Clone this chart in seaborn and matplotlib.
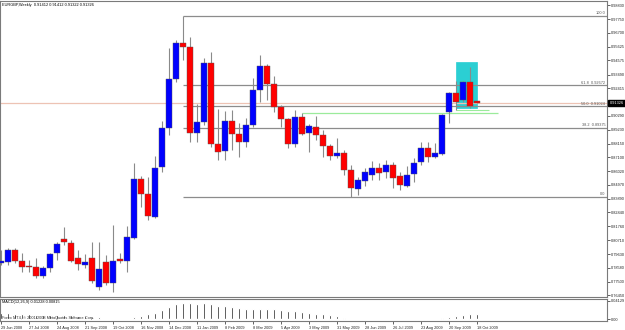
import numpy as np
import pandas as pd
import matplotlib
matplotlib.use("Agg")
import matplotlib.pyplot as plt
import matplotlib.patches as mpatches
import matplotlib.transforms as mtrans
import seaborn as sns

# ---------------- data ----------------
week_start = "2008-06-29"
n_weeks = 69

opens = [0.7894, 0.7902, 0.7994, 0.7910, 0.7871, 0.7863, 0.7794, 0.7856, 0.7971, 0.8079,
         0.8048, 0.7933, 0.7879, 0.7933, 0.7709, 0.7902, 0.7740, 0.7925, 0.7910, 0.8087,
         0.8543, 0.8427, 0.8249, 0.8635, 0.8936, 0.9315, 0.9593, 0.9562, 0.8898, 0.8983,
         0.9438, 0.8813, 0.8759, 0.8990, 0.8890, 0.8828, 0.8959, 0.9230, 0.9415, 0.9276,
         0.9098, 0.9006, 0.8813, 0.9021, 0.8898, 0.8944, 0.8882, 0.8797, 0.8720, 0.8743,
         0.8612, 0.8465, 0.8527, 0.8573, 0.8627, 0.8597, 0.8651, 0.8566, 0.8489, 0.8581,
         0.8674, 0.8782, 0.8712, 0.8735, 0.9060, 0.9206, 0.9152, 0.9291, 0.91412]
highs = [0.7994, 0.8010, 0.8010, 0.7971, 0.7917, 0.7932, 0.7871, 0.7971, 0.8056, 0.8172,
         0.8071, 0.7994, 0.7963, 0.8056, 0.8056, 0.7955, 0.8187, 0.7971, 0.8180, 0.8666,
         0.8566, 0.8558, 0.8720, 0.8990, 0.9554, 0.9616, 0.9801, 0.9639, 0.9121, 0.9477,
         0.9523, 0.9083, 0.9068, 0.9075, 0.8975, 0.9013, 0.9322, 0.9500, 0.9430, 0.9338,
         0.9114, 0.9013, 0.9075, 0.9052, 0.8967, 0.9029, 0.8921, 0.8813, 0.8859, 0.8766,
         0.8651, 0.8558, 0.8627, 0.8681, 0.8666, 0.8689, 0.8674, 0.8597, 0.8643, 0.8705,
         0.8828, 0.8828, 0.8821, 0.9044, 0.9214, 0.9299, 0.9299, 0.9407, 0.91412]
lows = [0.7879, 0.7879, 0.7894, 0.7825, 0.7825, 0.7778, 0.7778, 0.7825, 0.7917, 0.8033,
        0.7902, 0.7840, 0.7856, 0.7740, 0.7686, 0.7724, 0.7670, 0.7894, 0.7825, 0.8079,
        0.8326, 0.8226, 0.8241, 0.8597, 0.8882, 0.9291, 0.9461, 0.8828, 0.8828, 0.8959,
        0.8790, 0.8689, 0.8689, 0.8766, 0.8712, 0.8790, 0.8944, 0.9137, 0.9152, 0.9060,
        0.8944, 0.8782, 0.8790, 0.8882, 0.8751, 0.8844, 0.8712, 0.8689, 0.8705, 0.8573,
        0.8404, 0.8419, 0.8489, 0.8535, 0.8535, 0.8550, 0.8473, 0.8458, 0.8481, 0.8519,
        0.8651, 0.8674, 0.8705, 0.8728, 0.8975, 0.9075, 0.9137, 0.9090, 0.91322]
closes = [0.7910, 0.7994, 0.7910, 0.7863, 0.7863, 0.7794, 0.7856, 0.7963, 0.8040, 0.8056,
          0.7910, 0.7886, 0.7902, 0.7755, 0.7848, 0.7740, 0.7910, 0.7910, 0.8095, 0.8543,
          0.8427, 0.8257, 0.8627, 0.8936, 0.9315, 0.9593, 0.9562, 0.8898, 0.8983, 0.9438,
          0.8813, 0.8751, 0.8990, 0.8890, 0.8828, 0.8959, 0.9230, 0.9415, 0.9276, 0.9098,
          0.9006, 0.8813, 0.9021, 0.8890, 0.8952, 0.8882, 0.8797, 0.8720, 0.8743, 0.8612,
          0.8473, 0.8535, 0.8597, 0.8627, 0.8589, 0.8651, 0.8550, 0.8496, 0.8573, 0.8666,
          0.8782, 0.8712, 0.8743, 0.9036, 0.9206, 0.9137, 0.9291, 0.9106, 0.91326]

macd_values = [0.0138, 0.0135, 0.0130, 0.0125, 0.0115, 0.0105, 0.0098, 0.0095, 0.0095, 0.0095,
               0.0088, 0.0078, 0.0068, 0.0055, 0.0045, 0.0015, 0.0012, 0.0012, 0.0015, 0.0050,
               0.0085, 0.0110, 0.0150, 0.0200, 0.0270, 0.0340, 0.0370, 0.0360, 0.0350, 0.0370,
               0.0330, 0.0300, 0.0290, 0.0270, 0.0250, 0.0240, 0.0230, 0.0240, 0.0230, 0.0220,
               0.0210, 0.0190, 0.0180, 0.0170, 0.0150, 0.0130, 0.0110, 0.0090, 0.0070, 0.0040,
               0.0020, 0.0010, 0.0010, 0.0010, 0.0010, 0.0010, 0.0010, 0.0010, 0.0010, 0.0010,
               0.0010, 0.0010, 0.0012, 0.0025, 0.0050, 0.0080, 0.0100, 0.0120, 0.01228]

price_tick_values = [0.98830, 0.97750, 0.96700, 0.95625, 0.94575, 0.93490, 0.92415,
                     0.90290, 0.89230, 0.88150, 0.87100, 0.86020, 0.84970, 0.83890,
                     0.82840, 0.81760, 0.80710, 0.79630, 0.78580, 0.77500, 0.76450]
price_tick_labels = ["%.5f" % v for v in price_tick_values]

macd_tick_values = [0.0413, 0.0]
macd_tick_labels = ["0.04129", "0.00"]

date_label_idx = list(range(0, 69, 4))
date_labels = ["29 Jun 2008", "27 Jul 2008", "24 Aug 2008", "21 Sep 2008", "19 Oct 2008",
               "16 Nov 2008", "14 Dec 2008", "11 Jan 2009", "8 Feb 2009", "8 Mar 2009",
               "5 Apr 2009", "3 May 2009", "31 May 2009", "28 Jun 2009", "26 Jul 2009",
               "23 Aug 2009", "20 Sep 2009", "18 Oct 2009"]

fib_high = 0.98008
fib_low = 0.84039
fib_levels = [100.0, 61.8, 50.0, 38.2, 0.0]
fib_texts = ["100.0", "61.8  0.92672", "50.0  0.91024", "38.2  0.89375", "0.0"]
fib_start_idx = 26

current_price = 0.91326
header = "EURGBP,Weekly  0.91412 0.91412 0.91322 0.91326"
macd_title = "MACD(12,26,9) 0.01228 0.00815"
copyright_text = "Forex MT4, \u00a9 2001-2008 MetaQuotes Software Corp."

green_line_price = 0.9052
green_line_span = (43, 71)
green_line2_price = 0.9075
green_line2_span = (65, 69.7)
box_span = (65.0, 68.0)
box_prices = (0.9091, 0.9446)

# ---------------- styling / layout ----------------
sns.set_theme(style="white")
plt.rcParams['font.family'] = ['Liberation Sans', 'DejaVu Sans']
FS = 2.8

W, H = 625, 330
fig = plt.figure(figsize=(W / 100, H / 100), dpi=100)
fig.patch.set_facecolor("white")


def box(l, t, r, b):
    return [l / W, 1 - b / H, (r - l) / W, (b - t) / H]


ax = fig.add_axes(box(0, 1, 607, 297))
ax2 = fig.add_axes(box(0, 299, 607, 321))

xl = (-1 / 7, 606 / 7)
idx = np.arange(n_weeks)
dates = pd.date_range(week_start, periods=n_weeks, freq="7D")

o = np.array(opens); h = np.array(highs); l = np.array(lows); c = np.array(closes)
bull = c >= o
body_col = np.where(bull, "#0000FF", "#FF0000")

# background objects
ax.add_patch(mpatches.Rectangle((box_span[0], box_prices[0]), box_span[1] - box_span[0],
                                box_prices[1] - box_prices[0], facecolor="#2BCFD3",
                                edgecolor="#2BCFD3", lw=0.5, zorder=0.5))
ax.axhline(current_price, color="#EDC3B4", lw=0.9, zorder=1)
ax.hlines(green_line_price, *green_line_span, color="#9BEB9B", lw=0.9, zorder=1)
ax.hlines(green_line2_price, *green_line2_span, color="#9BEB9B", lw=0.8, zorder=1)

for lv, txt in zip(fib_levels, fib_texts):
    p = fib_low + (fib_high - fib_low) * lv / 100.0
    ax.hlines(p, fib_start_idx, xl[1], color="#8C8C8C", lw=0.9, zorder=1)
    ax.text(xl[1] - 0.25, p + 0.0004, txt, ha="right", va="bottom", fontsize=FS,
            color="#555555", zorder=5)

# candles
ax.vlines(idx, l, h, color="#8A8A8A", lw=0.8, zorder=2)
heights = np.maximum(np.abs(c - o), 0.0004)
ax.bar(idx, heights, bottom=np.minimum(o, c), width=0.72, color=body_col,
       edgecolor="#555555", linewidth=0.3, zorder=3)

ax.set_xlim(*xl)
ax.set_ylim(0.76316, 0.99167)
ax.set_xticks([])
ax.yaxis.tick_right()
ax.set_yticks(price_tick_values)
ax.set_yticklabels(price_tick_labels)
ax.tick_params(axis="y", length=2, width=0.5, labelsize=FS, pad=1.0, colors="#222222",
               right=True, left=False)
for s in ax.spines.values():
    s.set_color("#7A7A7A")
    s.set_linewidth(0.8)

ax.text(0.004, 0.992, header, transform=ax.transAxes, fontsize=FS, va="top", ha="left",
        color="black")

tr = mtrans.blended_transform_factory(ax.transAxes, ax.transData)
ax.text(1.004, current_price, "%.5f" % current_price, transform=tr, fontsize=FS,
        color="white", va="center", ha="left",
        bbox=dict(boxstyle="square,pad=0.25", fc="black", ec="black"))

# MACD panel
df = pd.DataFrame({"idx": idx, "macd": macd_values})
sns.barplot(data=df, x="idx", y="macd", native_scale=True, color="black", width=0.25,
            errorbar=None, saturation=1, ax=ax2)
ax2.set_xlim(*xl)
ax2.set_ylim(-0.0035, 0.0449)
ax2.set_xlabel("")
ax2.set_ylabel("")
ax2.yaxis.tick_right()
ax2.set_yticks(macd_tick_values)
ax2.set_yticklabels(macd_tick_labels)
ax2.tick_params(axis="y", length=2, width=0.5, labelsize=FS, pad=1.0, colors="#222222",
                right=True, left=False)
ax2.set_xticks(date_label_idx)
ax2.set_xticklabels(date_labels)
for t in ax2.get_xticklabels():
    t.set_ha("left")
ax2.tick_params(axis="x", length=2.5, width=0.5, labelsize=FS, pad=1, colors="#222222",
                bottom=True)
for s in ax2.spines.values():
    s.set_color("#7A7A7A")
    s.set_linewidth(0.8)
ax2.text(0.004, 0.95, macd_title, transform=ax2.transAxes, fontsize=FS, va="top",
         ha="left", color="black")
ax2.text(0.004, 0.06, copyright_text, transform=ax2.transAxes, fontsize=FS, va="bottom",
         ha="left", color="#333333")

fig.savefig("out.png", dpi=100, facecolor="white")
